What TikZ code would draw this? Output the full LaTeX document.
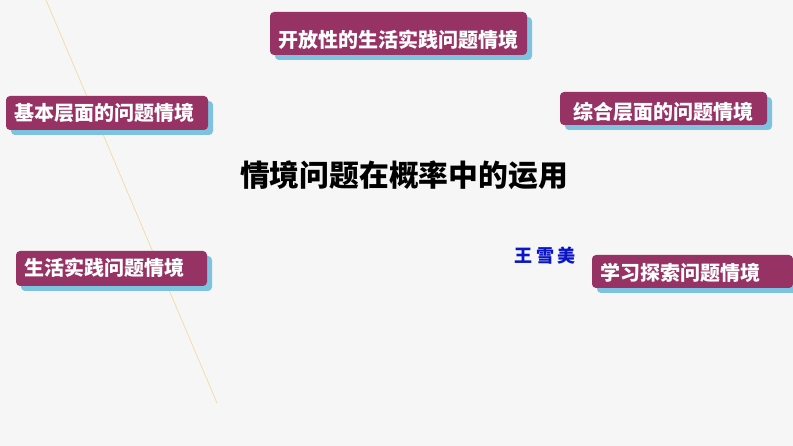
\documentclass[tikz,border=0pt]{standalone}
\usepackage{fontspec}
\setmainfont{Noto Sans CJK SC}
\usetikzlibrary{shadows}
\definecolor{boxc}{HTML}{963264}
\definecolor{shadc}{HTML}{7DC3DF}
\definecolor{bgc}{HTML}{F6F6F6}
\definecolor{linec}{HTML}{F3D9A6}
\definecolor{namec}{HTML}{0A14C8}
\tikzset{
  tagbox/.style={rounded corners=4pt, fill=boxc, draw=none, inner sep=0pt,
    drop shadow={fill=shadc, opacity=1, shadow xshift=5pt, shadow yshift=-5pt}},
  tagtext/.style={anchor=west, inner sep=0pt, text=white, font=\fontsize{20}{21}\selectfont\bfseries},
}
\begin{document}
\begin{tikzpicture}[x=1pt,y=1pt]
\fill[bgc] (0,0) rectangle (793,-446);
\useasboundingbox (0,0) rectangle (793,-446);
\coordinate (lt) at (46,0);
\coordinate (lb) at (217,-403);
\draw[linec, line width=0.7pt] (lt) -- (lb);

\node[tagbox, minimum width=257pt, minimum height=43pt] (a) at (398.5,-33.5) {};
\node[tagtext] (at) at (278,-40) {开放性的生活实践问题情境};

\node[tagbox, minimum width=207pt, minimum height=33pt] (b) at (663.5,-108.5) {};
\node[tagtext] (bt) at (573,-111.5) {综合层面的问题情境};

\node[tagbox, minimum width=202pt, minimum height=34pt] (c) at (107,-113) {};
\node[tagtext] (ct) at (14,-113) {基本层面的问题情境};

\node[tagbox, minimum width=191pt, minimum height=35pt] (d) at (111.5,-268.5) {};
\node[tagtext] (dt) at (24,-268) {生活实践问题情境};

\node[tagbox, minimum width=201pt, minimum height=33pt] (e) at (692.5,-271.5) {};
\node[tagtext] (et) at (600,-273) {学习探索问题情境};

\node[inner sep=0pt, font=\fontsize{29.8}{31}\selectfont\bfseries] (title) at (404,-175) {情境问题在概率中的运用};
\node[inner sep=0pt, text=namec, font=\fontsize{18}{19}\selectfont\bfseries] (name) at (545,-256) {王\hspace{4pt}雪\hspace{4pt}美};
\end{tikzpicture}
\end{document}
